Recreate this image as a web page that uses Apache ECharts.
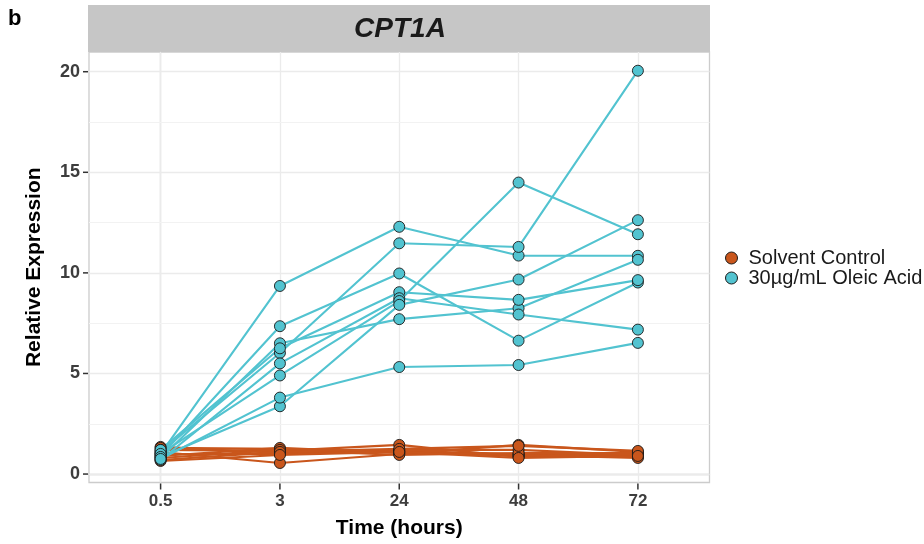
<!DOCTYPE html>
<html>
<head>
<meta charset="utf-8">
<script src="https://cdn.jsdelivr.net/npm/echarts@6/dist/echarts.min.js"></script>
<style>
  html, body { margin: 0; padding: 0; background: #fff; }
  #chart { width: 924px; height: 544px; }
</style>
</head>
<body>
<div id="chart"></div>
<script>
// time points (x categories) and y ticks
const timeLabels = ['0.5', '3', '24', '48', '72']
const yTicks = [0, 5, 10, 15, 20]
const yMinor = [2.5, 7.5, 12.5, 17.5]

// one row per sample, values at 0.5, 3, 24, 48, 72 h
const controlLines = [
  [1.35, 1.05, 1.15, 1.00, 1.00],
  [1.30, 1.25, 1.10, 0.90, 0.95],
  [1.20, 1.15, 1.45, 0.85, 0.85],
  [1.10, 0.55, 1.00, 1.45, 1.10],
  [1.00, 1.00, 1.20, 1.20, 0.95],
  [0.90, 1.30, 1.05, 0.95, 0.80],
  [0.80, 1.20, 0.95, 1.05, 1.05],
  [0.70, 1.10, 1.25, 1.40, 1.15],
  [0.65, 0.95, 1.10, 0.80, 0.90]
]
const oleicLines = [
  [1.00, 9.35, 12.29, 10.86, 10.85],
  [0.90, 7.35, 9.97, 6.63, 9.52],
  [1.10, 6.02, 11.47, 11.29, 20.05],
  [0.80, 6.50, 7.70, 8.24, 10.65],
  [1.20, 6.25, 9.04, 8.66, 9.64],
  [0.70, 5.50, 8.74, 7.93, 7.18],
  [1.00, 4.90, 8.60, 14.49, 11.92],
  [0.85, 3.37, 8.41, 9.67, 12.62],
  [0.75, 3.80, 5.32, 5.42, 6.52]
]

const groupNames = ['Solvent Control', '30µg/mL Oleic Acid']
const orange = '#C9561C'
const cyan = '#52C3D0'
const font = 'Liberation Sans'
const xMin = -0.6
const xMax = 4.6
const yMin = -0.42
const yMax = 20.98

function lineSeries (name, rows, color) {
  return rows.map(r => ({
    type: 'line',
    name: name,
    data: r.map((v, i) => [i, v]),
    symbol: 'none',
    lineStyle: { color: color, width: 2.1 },
    itemStyle: { color: color },
    z: 2,
    silent: true
  }))
}

function pointSeries (name, rows, color) {
  const pts = []
  rows.forEach(r => r.forEach((v, i) => pts.push([i, v])))
  return {
    type: 'scatter',
    name: name,
    data: pts,
    symbolSize: 11,
    itemStyle: { color: color, borderColor: '#1a1a1a', borderWidth: 0.9, opacity: 1 },
    z: 3,
    silent: true
  }
}

// grid lines like ggplot (major + minor), kept under the data
const gridLines = {
  type: 'line',
  data: [],
  z: 1,
  silent: true,
  markLine: {
    z: 1,
    silent: true,
    symbol: ['none', 'none'],
    label: { show: false },
    emphasis: { disabled: true },
    animation: false,
    data: [
      ...timeLabels.map((t, i) => ({ xAxis: i, lineStyle: { color: '#EBEBEB', width: 1.3, type: 'solid' } })),
      ...yTicks.map(v => ({ yAxis: v, lineStyle: { color: '#EBEBEB', width: 1.3, type: 'solid' } })),
      ...yMinor.map(v => ({ yAxis: v, lineStyle: { color: '#F2F2F2', width: 1, type: 'solid' } }))
    ]
  }
}

// small outward tick marks: [x, y, side] with side 0 = bottom axis, 1 = left axis
const tickSeries = {
  type: 'custom',
  silent: true,
  clip: false,
  z: 4,
  encode: { x: 0, y: 1 },
  data: [
    ...timeLabels.map((t, i) => [i, yMin, 0]),
    ...yTicks.map(v => [xMin, v, 1])
  ],
  renderItem: function (params, api) {
    const p = api.coord([api.value(0), api.value(1)])
    const side = api.value(2)
    const shape = side === 0
      ? { x1: p[0], y1: p[1] + 1, x2: p[0], y2: p[1] + 7 }
      : { x1: p[0] - 6, y1: p[1], x2: p[0] - 1, y2: p[1] }
    return { type: 'line', shape: shape, style: { stroke: '#333', lineWidth: 1.5 } }
  }
}

const chartObj = echarts.init(document.getElementById('chart'))

const axisLineStyle = { show: true, lineStyle: { color: '#CCCCCC', width: 1.3 } }

const option = {
  animation: false,
  textStyle: { fontFamily: font },
  grid: {
    left: 89,
    right: 214.5,
    top: 52,
    bottom: 61.5,
    show: true,
    backgroundColor: '#fff',
    borderColor: '#CCCCCC',
    borderWidth: 1.3
  },
  graphic: [
    {
      type: 'text',
      left: 8,
      top: 8,
      style: { text: 'b', font: 'bold 22px "Liberation Sans"', fill: '#000' }
    },
    {
      type: 'rect',
      shape: { x: 88, y: 5, width: 622, height: 47 },
      style: { fill: '#C6C6C6' },
      z: 0
    },
    {
      type: 'text',
      x: 400,
      y: 29,
      style: {
        text: 'CPT1A',
        font: 'italic bold 28px "Liberation Sans"',
        fill: '#1a1a1a',
        textAlign: 'center',
        textVerticalAlign: 'middle',
        align: 'center',
        verticalAlign: 'middle'
      }
    }
  ],
  legend: {
    orient: 'vertical',
    left: 720,
    top: 243,
    itemWidth: 12,
    itemHeight: 12,
    itemGap: 0,
    icon: 'circle',
    selectedMode: false,
    textStyle: { fontSize: 20, color: '#1a1a1a', fontFamily: font, padding: [0, 0, 0, 6] },
    data: [
      { name: groupNames[0], itemStyle: { color: orange, borderColor: '#1a1a1a', borderWidth: 1 } },
      { name: groupNames[1], itemStyle: { color: cyan, borderColor: '#1a1a1a', borderWidth: 1 } }
    ]
  },
  xAxis: {
    type: 'value',
    min: xMin,
    max: xMax,
    name: 'Time (hours)',
    nameLocation: 'middle',
    nameGap: 35,
    nameTextStyle: { fontSize: 21, fontWeight: 'bold', color: '#000', fontFamily: font },
    splitLine: { show: false },
    axisLine: axisLineStyle,
    axisTick: { show: false },
    axisLabel: {
      customValues: [0, 1, 2, 3, 4],
      formatter: v => timeLabels[Math.round(v)],
      margin: 10,
      fontSize: 17,
      fontWeight: 'bold',
      color: '#3d3d3d',
      fontFamily: font
    }
  },
  yAxis: {
    type: 'value',
    min: yMin,
    max: yMax,
    name: 'Relative Expression',
    nameLocation: 'middle',
    nameGap: 44,
    nameTextStyle: { fontSize: 21, fontWeight: 'bold', color: '#000', fontFamily: font },
    splitLine: { show: false },
    axisLine: axisLineStyle,
    axisTick: { show: false },
    axisLabel: {
      customValues: yTicks,
      margin: 9,
      fontSize: 18,
      fontWeight: 'bold',
      color: '#3d3d3d',
      fontFamily: font
    }
  },
  series: [
    gridLines,
    ...lineSeries(groupNames[0], controlLines, orange),
    ...lineSeries(groupNames[1], oleicLines, cyan),
    pointSeries(groupNames[0], controlLines, orange),
    pointSeries(groupNames[1], oleicLines, cyan),
    tickSeries
  ]
}

chartObj.setOption(option)
</script>
</body>
</html>
